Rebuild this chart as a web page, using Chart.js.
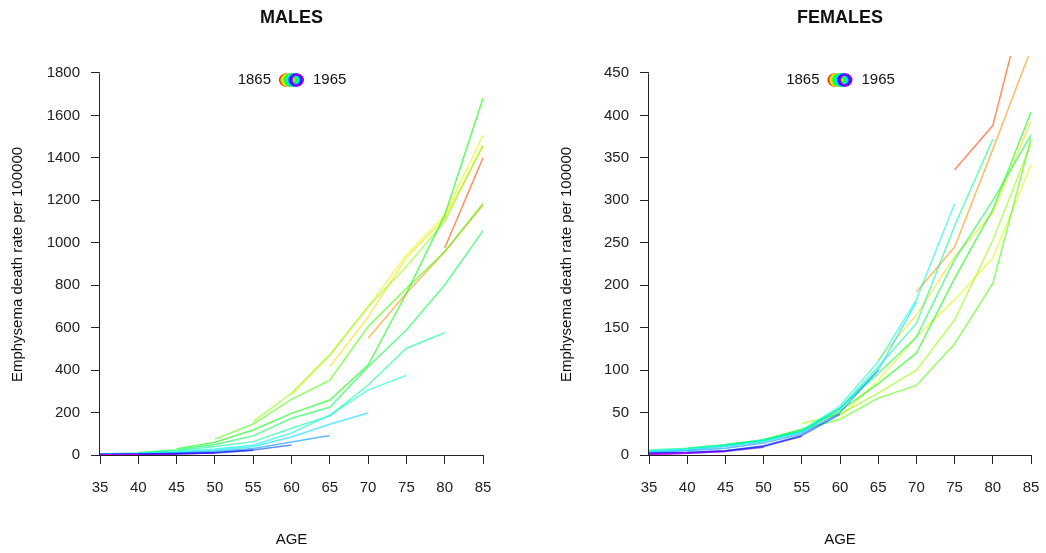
<!DOCTYPE html>
<html><head><meta charset="utf-8">
<script src="https://cdn.jsdelivr.net/npm/chart.js@4.4.1/dist/chart.umd.min.js"></script>
<style>
html,body{margin:0;padding:0;background:#fff;}
#wrap{position:relative;width:1046px;height:553px;overflow:hidden;}
.half{position:absolute;top:0;width:523px;height:553px;}
</style></head><body>
<div id="wrap">
<div class="half" style="left:0"><canvas id="male" width="523" height="553"></canvas></div>
<div class="half" style="left:523px"><canvas id="female" width="523" height="553"></canvas></div>
</div>
<script>
// ---- data ----
const ages = [35,40,45,50,55,60,65,70,75,80,85];
const ageTicks = [35,40,45,50,55,60,65,70,75,80,85];
const maleTicks = [0,200,400,600,800,1000,1200,1400,1600,1800];
const femaleTicks = [0,50,100,150,200,250,300,350,400,450];
const firstCohort = 1865, lastCohort = 1965;
const _ = null;

// Male rates per 100000, by birth cohort, ages 35..85
const M1870 = [_,_,_,_,_,_,_,_,_,975,1400];
const M1875 = [_,_,_,_,_,_,_,550,762,958,1178];
const M1880 = [_,_,_,_,_,_,416,650,930,1115,1455];
const M1885 = [_,_,_,_,_,285,471,699,943,1130,1508];
const M1890 = [_,_,_,_,157,291,471,699,888,1100,1461];
const M1895 = [_,_,_,75,146,262,353,605,785,958,1186];
const M1900 = [_,_,30,60,118,196,259,424,762,1130,1681];
const M1905 = [_,12,25,50,90,173,225,416,589,801,1057];
const M1910 = [6,10,20,40,63,126,184,330,503,576,_];
const M1915 = [5,8,15,28,47,104,188,306,375,_,_];
const M1920 = [4,6,12,22,40,85,145,198,_,_,_];
const M1925 = [3,5,9,16,31,61,92,_,_,_,_];
const M1930 = [2,4,7,12,24,47,_,_,_,_,_];
const M1935 = [2,3,6,10,22,_,_,_,_,_,_];
const M1940 = [1,3,5,9,_,_,_,_,_,_,_];
const M1945 = [1,2,4,_,_,_,_,_,_,_,_];
const M1950 = [1,2,_,_,_,_,_,_,_,_,_];

// Female rates per 100000
const F1870 = [_,_,_,_,_,_,_,_,336,388,565];
const F1875 = [_,_,_,_,_,_,_,192,245,360,478];
const F1880 = [_,_,_,_,_,_,112,165,234,285,393];
const F1885 = [_,_,_,_,_,45,88,139,183,232,342];
const F1890 = [_,_,_,_,37,48,73,100,159,253,367];
const F1895 = [_,_,_,18,30,42,67,82,131,202,373];
const F1900 = [_,_,12,17,28,52,84,120,208,289,404];
const F1905 = [_,8,12,18,30,55,96,139,230,300,377];
const F1910 = [6,8,12,18,28,55,104,155,270,372,_];
const F1915 = [5,7,11,17,28,58,110,183,296,_,_];
const F1920 = [4,6,10,16,27,55,100,180,_,_,_];
const F1925 = [3,5,8,14,25,50,100,_,_,_,_];
const F1930 = [2,3,5,11,23,48,_,_,_,_,_];
const F1935 = [2,3,5,10,22,_,_,_,_,_,_];
const F1940 = [1,2,4,9,_,_,_,_,_,_,_];
const F1945 = [1,2,4,_,_,_,_,_,_,_,_];
const F1950 = [1,2,_,_,_,_,_,_,_,_,_];

const maleSeries = [[1870,M1870],[1875,M1875],[1880,M1880],[1885,M1885],[1890,M1890],[1895,M1895],[1900,M1900],[1905,M1905],[1910,M1910],[1915,M1915],[1920,M1920],[1925,M1925],[1930,M1930],[1935,M1935],[1940,M1940],[1945,M1945],[1950,M1950]];
const femaleSeries = [[1870,F1870],[1875,F1875],[1880,F1880],[1885,F1885],[1890,F1890],[1895,F1895],[1900,F1900],[1905,F1905],[1910,F1910],[1915,F1915],[1920,F1920],[1925,F1925],[1930,F1930],[1935,F1935],[1940,F1940],[1945,F1945],[1950,F1950]];

// ---- drawing ----
const FONT = "'Liberation Sans', Arial, Helvetica, sans-serif";
const nCoh = (lastCohort - firstCohort)/5 + 1;
function hue(year){ return ((year - firstCohort)/5) / nCoh * 360; }
function cohortColor(year, a){ return `hsla(${hue(year)},100%,50%,${a})`; }

function decor(title){
  return {
    id:'decor',
    afterDraw(chart){
      const {ctx, chartArea:a, scales:{x, y}} = chart;
      const cx = (a.left + a.right)/2;
      ctx.save();
      // axis lines
      ctx.strokeStyle = '#222'; ctx.lineWidth = 1;
      const ax = Math.round(a.left) - 0.5;
      const yb = Math.round(y.getPixelForValue(y.ticks[0].value)) + 0.5;
      const yt = Math.round(y.getPixelForValue(y.ticks[y.ticks.length-1].value)) + 0.5;
      ctx.beginPath(); ctx.moveTo(ax, yb); ctx.lineTo(ax, yt); ctx.stroke();
      const xl = x.getPixelForValue(x.ticks[0].value), xr = x.getPixelForValue(x.ticks[x.ticks.length-1].value);
      ctx.beginPath(); ctx.moveTo(Math.round(xl)-0.5, yb); ctx.lineTo(Math.round(xr)+0.5, yb); ctx.stroke();
      // texts
      ctx.fillStyle = '#111';
      ctx.textAlign = 'center'; ctx.textBaseline = 'middle';
      ctx.font = `bold 18px ${FONT}`;
      ctx.fillText(title, cx, 18);
      ctx.font = `15px ${FONT}`;
      ctx.fillText('AGE', cx, 540);
      ctx.save();
      ctx.translate(a.left - 82, (yb + yt)/2);
      ctx.rotate(-Math.PI/2);
      ctx.fillText('Emphysema death rate per 100000', 0, 0);
      ctx.restore();
      // legend: overlapping cohort rings
      const ly = 80;
      ctx.textAlign = 'right';
      ctx.fillText(String(firstCohort), cx - 20.5, ly);
      ctx.textAlign = 'left';
      ctx.fillText(String(lastCohort), cx + 21.5, ly);
      ctx.lineWidth = 1.8;
      for (let i = 0; i < nCoh; i++){
        const px = cx - 6 + i*(12/(nCoh-1));
        const h = i/(nCoh-1) * 272;
        ctx.strokeStyle = `hsl(${h},100%,52%)`;
        ctx.beginPath(); ctx.arc(px, ly, 5.6, 0, Math.PI*2); ctx.stroke();
      }
      ctx.restore();
    }
  };
}

function makeChart(id, title, series, yMax, yTicks, padLeft, padRight){
  const datasets = series.map(([year, vals]) => ({
    label: String(year),
    data: ages.map((a,i) => ({x:a, y: vals[i]})),
    borderColor: cohortColor(year, 0.62),
    borderWidth: 1.5,
    pointRadius: 0,
    fill: false,
    tension: 0,
    spanGaps: false
  })).reverse();
  const tickFont = {family: FONT, size: 15};
  const gridOpts = {display:true, drawOnChartArea:false, drawTicks:true, tickLength:9, color:'#222', lineWidth:1};
  return new Chart(document.getElementById(id), {
    type: 'line',
    data: {datasets},
    options: {
      responsive: false, animation: false, devicePixelRatio: 1,
      layout: {padding: {top: 56, left: padLeft, right: padRight, bottom: 0}},
      plugins: {legend: {display:false}, tooltip: {enabled:false}},
      scales: {
        x: {
          type: 'linear', min: 35, max: 85,
          afterBuildTicks: s => { s.ticks = ageTicks.map(v => ({value: v})); },
          afterFit: s => { s.height = 98; s.paddingLeft = 0; s.paddingRight = 0; },
          grid: gridOpts, border: {display:false},
          ticks: {font: tickFont, color:'#222', padding: 15, maxRotation: 0, autoSkip: false, callback: v => String(v)}
        },
        y: {
          type: 'linear', min: 0, max: yMax,
          afterBuildTicks: s => { s.ticks = yTicks.map(v => ({value: v})); },
          afterFit: s => { s.width = 100; s.paddingTop = 0; s.paddingBottom = 0; },
          grid: gridOpts, border: {display:false},
          ticks: {font: tickFont, color:'#222', padding: 11, autoSkip: false, callback: v => String(v)}
        }
      }
    },
    plugins: [decor(title)]
  });
}

makeChart('male', 'MALES', maleSeries, 1880, maleTicks, 0, 40);
makeChart('female', 'FEMALES', femaleSeries, 470, femaleTicks, 26, 15);
</script>
</body></html>
